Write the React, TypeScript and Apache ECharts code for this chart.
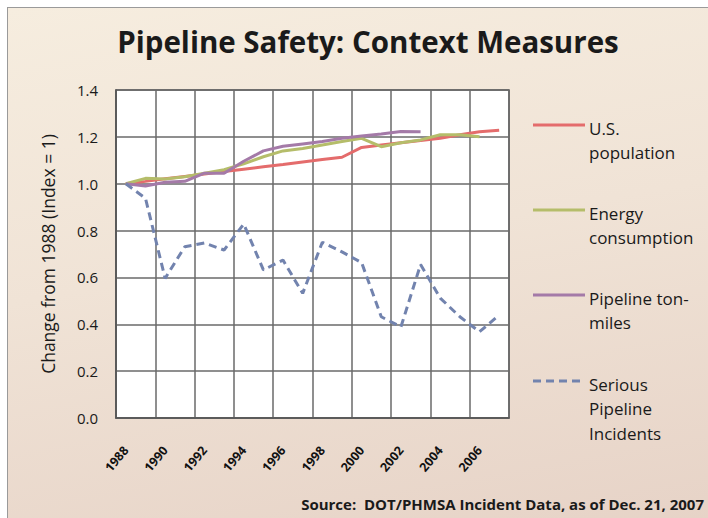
import React, { useEffect, useRef } from "react";
import * as echarts from "echarts";

const years = ["1988","1989","1990","1991","1992","1993","1994","1995","1996","1997","1998","1999","2000","2001","2002","2003","2004","2005","2006","2007"];
const population = [1.0,1.01,1.021,1.031,1.041,1.052,1.062,1.072,1.082,1.093,1.103,1.113,1.155,1.165,1.175,1.184,1.194,1.209,1.222,1.228];
const energy = [1.0,1.023,1.02,1.03,1.045,1.06,1.085,1.115,1.14,1.15,1.165,1.18,1.194,1.158,1.175,1.187,1.209,1.209,1.2,null];
const tonMiles = [1.0,0.99,1.006,1.01,1.045,1.045,1.096,1.14,1.16,1.17,1.18,1.194,1.204,1.212,1.223,1.222,null,null,null,null];
const incidents = [1.0,0.938,0.596,0.731,0.747,0.717,0.828,0.632,0.674,0.532,0.75,0.709,0.663,0.432,0.389,0.655,0.512,0.432,0.368,0.44];

const seriesNames = ["U.S. population","Energy consumption","Pipeline ton-miles","Serious Pipeline Incidents"];
const legendLabels = [["U.S.","population"],["Energy","consumption"],["Pipeline ton-","miles"],["Serious","Pipeline","Incidents"]];
const colors = ["#E46C6C","#B5BD6A","#A47AA8","#7283AE"];

const FONT = "'Open Sans', Lato, sans-serif";

export default function App() {
  const ref = useRef<HTMLDivElement>(null);
  useEffect(() => {
    if (!ref.current) return;
    const chart = echarts.init(ref.current, undefined, { renderer: "svg" });
    const legendTops = [125, 210, 295, 381];
    const legendGraphics: any[] = [];
    seriesNames.forEach((name, i) => {
      legendGraphics.push({
        type: "line",
        shape: { x1: 533, y1: legendTops[i], x2: 585, y2: legendTops[i] },
        style: { stroke: colors[i], lineWidth: 3, lineDash: i === 3 ? [8, 5] : null },
        silent: true,
      });
      legendLabels[i].forEach((t, j) => {
        legendGraphics.push({
          type: "text",
          x: 589,
          y: legendTops[i] + 3 + j * 24.5,
          style: { text: t, font: `17px ${FONT}`, fill: "#1a1a1a", textVerticalAlign: "middle" },
          silent: true,
        });
      });
    });
    const dataSets = [population, energy, tonMiles, incidents];
    chart.setOption({
      animation: false,
      textStyle: { fontFamily: FONT },
      title: {
        text: "Pipeline Safety: Context Measures",
        left: 363,
        textAlign: "center",
        top: 21,
        textStyle: { fontFamily: FONT, fontSize: 29.5, fontWeight: "bold", color: "#1a1a1a" },
      },
      grid: {
        left: 116, right: 199, top: 90, bottom: 100,
        show: true, backgroundColor: "#ffffff", borderColor: "#555555", borderWidth: 1.5,
      },
      xAxis: {
        type: "category",
        data: years,
        boundaryGap: true,
        axisLine: { show: true, lineStyle: { color: "#555555", width: 1.5 } },
        axisTick: { show: false, interval: 1 },
        axisLabel: { interval: 1, rotate: 50, margin: 30, fontSize: 12.5, fontWeight: "bold", color: "#111111", fontFamily: FONT },
        splitLine: { show: true, interval: 1, lineStyle: { color: "#6a6a6a", width: 1.5 } },
      },
      yAxis: {
        type: "value",
        min: 0, max: 1.4, interval: 0.2,
        name: "Change from 1988 (Index = 1)",
        nameLocation: "middle",
        nameGap: 59,
        nameTextStyle: { fontSize: 17.5, color: "#1a1a1a", fontFamily: FONT },
        axisLine: { show: true, lineStyle: { color: "#555555", width: 1.5 } },
        axisTick: { show: false },
        axisLabel: { margin: 18, fontSize: 15, color: "#1a1a1a", fontFamily: FONT, formatter: (v: number) => v.toFixed(1) },
        splitLine: { show: true, lineStyle: { color: "#6a6a6a", width: 1.5 } },
      },
      series: seriesNames.map((name, i) => ({
        name,
        type: "line",
        data: dataSets[i],
        showSymbol: false,
        symbol: "none",
        connectNulls: false,
        lineStyle: { color: colors[i], width: 3, type: i === 3 ? [8, 5] : "solid" },
        itemStyle: { color: colors[i] },
      })),
      graphic: [
        ...legendGraphics,
        {
          type: "text",
          right: 4,
          top: 496,
          style: { text: "Source:  DOT/PHMSA Incident Data, as of Dec. 21, 2007", font: `bold 15px ${FONT}`, fill: "#1a1a1a" },
          silent: true,
        },
      ],
    });
    return () => chart.dispose();
  }, []);
  return (
    <div style={{ position: "fixed", left: 0, top: 0, width: 708, height: 518, background: "#ffffff", overflow: "hidden" }}>
      <div style={{ position: "absolute", left: 7, top: 7, width: 720, height: 530, border: "1px solid #9a9a9a",
        background: "linear-gradient(170deg, #F6EDDF 0%, #F0E3D6 45%, #E6D2C6 100%)" }} />
      <div ref={ref} style={{ position: "absolute", left: 0, top: 0, width: 708, height: 518 }} />
    </div>
  );
}
